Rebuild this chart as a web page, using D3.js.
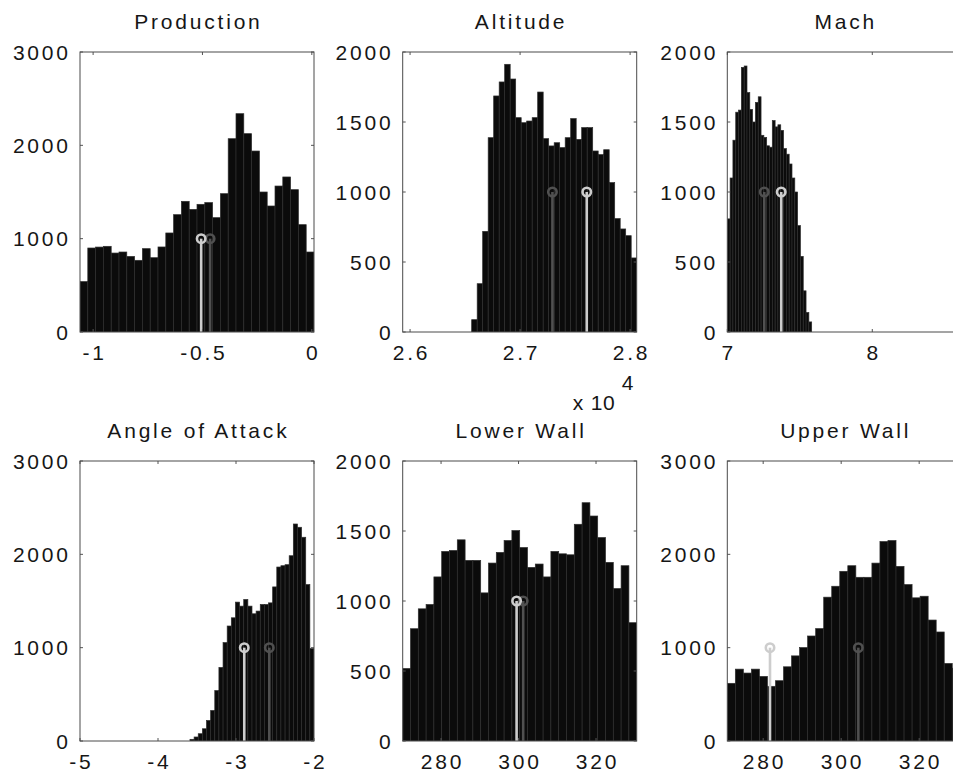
<!DOCTYPE html>
<html>
<head>
<meta charset="utf-8">
<script src="https://cdn.jsdelivr.net/npm/d3@7"></script>
<style>
  body { margin: 0; background: #fff; }
  text { font-family: "Liberation Sans", Arial, Helvetica, sans-serif; fill: #161616; }
</style>
</head>
<body>
<svg id="chart" width="953" height="781"></svg>
<script>
// panel titles, in grid order
const titles = ["Production", "Altitude", "Mach", "Angle of Attack", "Lower Wall", "Upper Wall"];

// histogram counts (30 bins each)
const productionCounts = [540, 900, 910, 918, 846, 857, 810, 768, 893, 796, 911, 1061, 1257, 1400, 1314,
  1368, 1386, 1225, 1482, 2071, 2339, 2125, 1939, 1500, 1350, 1564, 1661, 1525, 1150, 857];
const altitudeCounts = [88, 345, 719, 1388, 1686, 1786, 1912, 1807, 1531, 1495, 1507, 1531, 1714, 1381, 1329,
  1352, 1317, 1388, 1524, 1376, 1460, 1460, 1293, 1267, 1302, 1067, 810, 736, 688, 529];
const machCounts = [808, 1100, 1370, 1570, 1585, 1890, 1900, 1710, 1590, 1500, 1640, 1680, 1405, 1390, 1330,
  1320, 1510, 1465, 1480, 1440, 1310, 1270, 1200, 1100, 1000, 760, 540, 294, 139, 72];
const aoaCounts = [18, 43, 78, 131, 220, 327, 540, 788, 1054, 1232, 1320, 1488, 1445, 1516, 1445,
  1363, 1392, 1463, 1463, 1480, 1651, 1864, 1878, 1889, 1985, 2325, 2290, 2183, 1676, 990];
const lowerWallCounts = [518, 802, 944, 975, 1172, 1354, 1361, 1437, 1290, 1290, 1058, 1271, 1347, 1432, 1503,
  1382, 1240, 1264, 1172, 1354, 1337, 1330, 1548, 1702, 1607, 1453, 1276, 1089, 1252, 845];
const upperWallCounts = [618, 770, 728, 770, 692, 586, 646, 795, 912, 1001, 1125, 1204, 1541, 1658, 1818,
  1878, 1754, 1754, 1906, 2137, 2148, 1871, 1676, 1534, 1551, 1296, 1168, 831, 780, 600];
const allCounts = [productionCounts, altitudeCounts, machCounts, aoaCounts, lowerWallCounts, upperWallCounts];

// bin edges [first, last] per panel (altitude in units of 1e4)
const binRanges = [[-1.06, 0.01], [2.656, 2.806], [7, 7.582], [-3.59, -2], [270.1, 330.5], [270.8, 332.6]];
// x axis limits
const xLimits = [[-1.06, 0.01], [2.5933, 2.806], [7, 8.614], [-5, -2], [270.1, 330.5], [270.8, 330.8]];
const xTicks = [[-1, -0.5, 0], [2.6, 2.7, 2.8], [7, 8], [-5, -4, -3, -2], [280, 300, 320], [280, 300, 320]];
const yMax = [3000, 2000, 2000, 3000, 2000, 3000];
const yStep = [1000, 500, 500, 1000, 500, 1000];

// marker stems (height 1000): light gray and dark gray
const lightStem = [-0.506, 2.7606, 7.372, -2.894, 299.5, 281.75];
const darkStem = [-0.465, 2.7294, 7.255, -2.573, 301.2, 304.4];
const stemHeight = 1000;

const svg = d3.select("#chart");

const colLeft = [80, 402.7, 727.3];
const rowTop = [52, 461];
const pw = 234, ph = 280;
const fs = "21px", ls = 2.8;

allCounts.forEach((counts, k) => {
  const left = colLeft[k % 3], top = rowTop[Math.floor(k / 3)];
  const g = svg.append("g").attr("transform", `translate(${left},${top})`);

  const x = d3.scaleLinear().domain(xLimits[k]).range([0, pw]);
  const y = d3.scaleLinear().domain([0, yMax[k]]).range([ph, 0]);

  g.append("clipPath").attr("id", "clip" + k)
    .append("rect").attr("width", pw).attr("height", ph);

  const plot = g.append("g").attr("clip-path", `url(#clip${k})`);

  const [b0, b1] = binRanges[k];
  const bw = (b1 - b0) / counts.length;

  plot.selectAll("rect.bar").data(counts).join("rect")
    .attr("class", "bar")
    .attr("x", (d, i) => x(b0 + i * bw))
    .attr("width", (d, i) => x(b0 + (i + 1) * bw) - x(b0 + i * bw))
    .attr("y", d => y(d))
    .attr("height", d => y(0) - y(d))
    .attr("fill", "#0b0b0b")
    .attr("stroke", "#2e2e2e")
    .attr("stroke-width", 0.7);

  // stems: dark first, light on top
  [[darkStem[k], "#505050"], [lightStem[k], "#cdcdcd"]].forEach(([v, c]) => {
    plot.append("line")
      .attr("x1", x(v)).attr("x2", x(v))
      .attr("y1", y(0)).attr("y2", y(stemHeight))
      .attr("stroke", c).attr("stroke-width", 2.6);
    plot.append("circle")
      .attr("cx", x(v)).attr("cy", y(stemHeight)).attr("r", 4.2)
      .attr("fill", "none").attr("stroke", c).attr("stroke-width", 2.6);
  });

  const yt = d3.range(0, yMax[k] + 1, yStep[k]);

  // inward ticks on all four sides
  const tickG = g.append("g").attr("stroke", "#555").attr("stroke-width", 1);
  xTicks[k].forEach(t => {
    tickG.append("line").attr("x1", x(t)).attr("x2", x(t)).attr("y1", ph).attr("y2", ph - 3);
    tickG.append("line").attr("x1", x(t)).attr("x2", x(t)).attr("y1", 0).attr("y2", 3);
  });
  yt.forEach(t => {
    tickG.append("line").attr("x1", 0).attr("x2", 3).attr("y1", y(t)).attr("y2", y(t));
    tickG.append("line").attr("x1", pw).attr("x2", pw - 3).attr("y1", y(t)).attr("y2", y(t));
  });

  g.append("rect")
    .attr("width", pw).attr("height", ph)
    .attr("fill", "none").attr("stroke", "#4a4a4a").attr("stroke-width", 1);

  // tick labels
  g.selectAll("text.yl").data(yt).join("text")
    .attr("class", "yl")
    .attr("x", -12 + ls).attr("y", d => y(d) + 7.5)
    .attr("text-anchor", "end")
    .style("font-size", fs).style("letter-spacing", ls + "px")
    .text(d => String(d));

  g.selectAll("text.xl").data(xTicks[k]).join("text")
    .attr("class", "xl")
    .attr("x", d => x(d) + ls / 2).attr("y", ph + 28)
    .attr("text-anchor", "middle")
    .style("font-size", fs).style("letter-spacing", ls + "px")
    .text(d => String(d));

  g.append("text")
    .attr("x", pw / 2 + ls / 2).attr("y", -23)
    .attr("text-anchor", "middle")
    .style("font-size", fs).style("letter-spacing", ls + "px")
    .text(titles[k]);

  // exponent label under the altitude axis
  if (k === 1) {
    g.append("text")
      .attr("x", 170).attr("y", ph + 78)
      .style("font-size", fs).style("letter-spacing", "0.8px")
      .text("x 10");
    g.append("text")
      .attr("x", 219).attr("y", ph + 58)
      .style("font-size", fs)
      .text("4");
  }
});
</script>
</body>
</html>
